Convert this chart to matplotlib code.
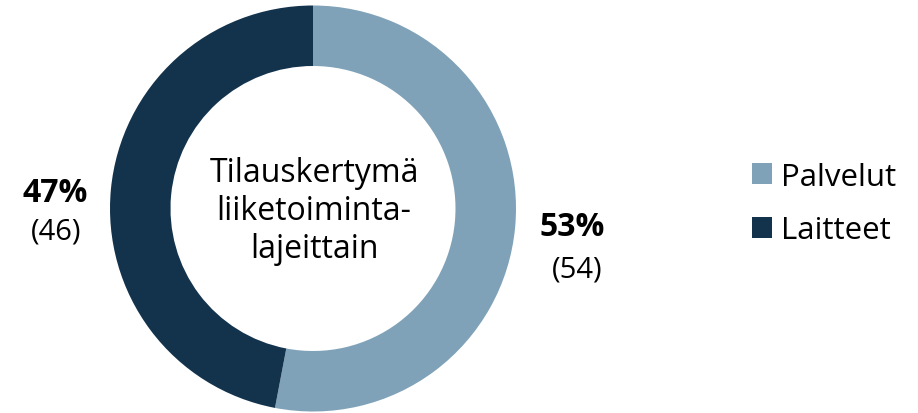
import matplotlib.pyplot as plt
from matplotlib.patches import Patch

plt.rcParams['font.family'] = ['Open Sans', 'DejaVu Sans']

labels = ['Palvelut', 'Laitteet']
shares = [53, 47]
counts = [54, 46]
colors = ['#7fa2b8', '#13334d']
title = 'Tilauskertymä\nliiketoiminta-\nlajeittain'

fig = plt.figure(figsize=(9.18, 4.14), dpi=100)
ax = fig.add_axes([0, 0, 1, 1])

ax.pie(shares, colors=colors, startangle=90, counterclock=False,
       radius=203, center=(313, 204.5),
       wedgeprops=dict(width=60.5, linewidth=0))
ax.set_xlim(0, 918)
ax.set_ylim(0, 414)
ax.axis('off')

ax.text(314, 203, title, ha='center', va='center', fontsize=23,
        linespacing=1.2)

# value labels
ax.text(572, 186, f'{shares[0]}%', ha='center', va='center',
        fontsize=23, fontweight='bold')
ax.text(577, 144, f'({counts[0]})', ha='center', va='center', fontsize=21)
ax.text(55, 221, f'{shares[1]}%', ha='center', va='center',
        fontsize=23, fontweight='bold')
ax.text(56, 182, f'({counts[1]})', ha='center', va='center', fontsize=21)

handles = [Patch(facecolor=c, label=l) for c, l in zip(colors, labels)]
ax.legend(handles=handles, loc='center left', bbox_to_anchor=(736, 209.5),
          bbox_transform=ax.transData, frameon=False, fontsize=22.5,
          handlelength=0.65, handleheight=0.65, handletextpad=0.3,
          labelspacing=0.75, borderpad=0)

fig.savefig('out.png', dpi=100)
